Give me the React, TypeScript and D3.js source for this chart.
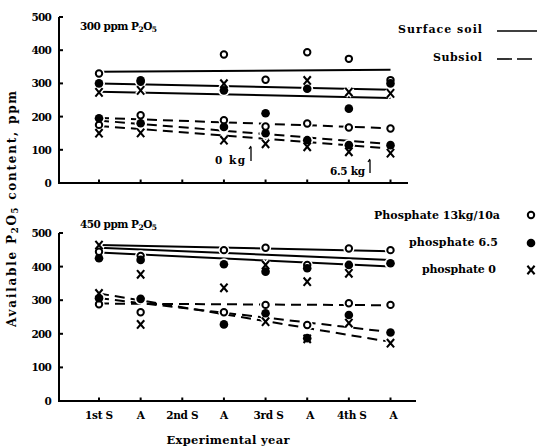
import React from "react";
import * as d3 from "d3";

// ---------- data ----------
const categories = ["1st S", "A", "2nd S", "A", "3rd S", "A", "4th S", "A"];
const yTicks = [0, 100, 200, 300, 400, 500];

// 300 ppm P2O5 panel – surface soil
const surf13_300 = [330, 305, null, 387, 311, 394, 374, 310];
const surf65_300 = [300, 309, null, 279, 210, 284, 224, 300];
const surf0_300 = [273, 279, null, 299, null, 309, 274, 270];
// 300 ppm P2O5 panel – subsoil
const sub13_300 = [175, 204, null, 189, 170, 179, 167, 164];
const sub65_300 = [195, 180, null, 169, 150, 129, 114, 114];
const sub0_300 = [150, 151, null, 129, 118, 109, 94, 90];
// fitted lines (value at 1st S, value at 4th A)
const fitSurf13_300 = [335, 341];
const fitSurf65_300 = [300, 281];
const fitSurf0_300 = [275, 256];
const fitSub13_300 = [196, 165];
const fitSub65_300 = [188, 117];
const fitSub0_300 = [172, 104];

// 450 ppm P2O5 panel – surface soil
const surf13_450 = [444, 432, null, 449, 456, 405, 454, 449];
const surf65_450 = [425, 420, null, 407, 385, 395, 405, 410];
const surf0_450 = [464, 377, null, 337, 405, 355, 380, null];
// 450 ppm P2O5 panel – subsoil
const sub13_450 = [288, 264, null, 264, 286, 226, 291, 286];
const sub65_450 = [306, 304, null, 228, 261, 187, 256, 204];
const sub0_450 = [320, 228, null, null, 236, 185, 232, 172];
const fitSurf13_450 = [464, 446];
const fitSurf65_450 = [456, 420];
const fitSurf0_450 = [442, 400];
const fitSub13_450 = [290, 285];
const fitSub65_450 = [306, 205];
const fitSub0_450 = [320, 176];

const legendLines = ["Surface soil", "Subsiol"];
const legendMarkers = ["Phosphate 13kg/10a", "phosphate 6.5", "phosphate 0"];

// ---------- drawing ----------
const FONT = "'DejaVu Serif', 'Liberation Serif', serif";
const x = d3.scaleLinear().domain([0, categories.length - 1]).range([99, 390.5]);

type Kind = "open" | "filled" | "cross";

function crossPath(cx: number, cy: number) {
  return `M${cx - 3.6},${cy - 4.2}L${cx + 3.6},${cy + 4.2}M${cx + 3.6},${cy - 4.2}L${cx - 3.6},${cy + 4.2}`;
}

function Halo({ kind, cx, cy }: { kind: Kind; cx: number; cy: number }) {
  if (kind === "cross")
    return <path d={crossPath(cx, cy)} stroke="#fff" strokeWidth={5} fill="none" />;
  return <circle cx={cx} cy={cy} r={kind === "open" ? 5.6 : 6} fill="#fff" />;
}

function Mark({ kind, cx, cy }: { kind: Kind; cx: number; cy: number }) {
  if (kind === "cross")
    return <path d={crossPath(cx, cy)} stroke="#000" strokeWidth={2.1} fill="none" />;
  if (kind === "open")
    return <circle cx={cx} cy={cy} r={3.2} fill="#fff" stroke="#000" strokeWidth={2} />;
  return <circle cx={cx} cy={cy} r={4.3} fill="#000" />;
}

function PanelTitle({ xPos, yPos, ppm }: { xPos: number; yPos: number; ppm: string }) {
  return (
    <text x={xPos} y={yPos} fontFamily={FONT} fontWeight="bold" fontSize={10.5} textLength={77} lengthAdjust="spacing">
      {ppm} ppm P
      <tspan fontSize={7.5} dy={2}>2</tspan>
      <tspan dy={-2}>O</tspan>
      <tspan fontSize={7.5} dy={2}>5</tspan>
    </text>
  );
}

interface PanelProps {
  y0: number;
  y500: number;
  axisEnd: number;
  series: { vals: (number | null)[]; kind: Kind }[];
  fits: { v: number[]; dashed: boolean }[];
  showXLabels: boolean;
}

function Panel({ y0, y500, axisEnd, series, fits, showXLabels }: PanelProps) {
  const y = d3.scaleLinear().domain([0, 500]).range([y0, y500]);
  const last = categories.length - 1;
  const pts: { kind: Kind; cx: number; cy: number }[] = [];
  series.forEach((s) =>
    s.vals.forEach((v, i) => {
      if (v !== null) pts.push({ kind: s.kind, cx: x(i), cy: y(v) });
    })
  );
  return (
    <g>
      {fits.map((f, i) => (
        <line
          key={"f" + i}
          x1={x(0)}
          x2={x(last)}
          y1={y(f.v[0])}
          y2={y(f.v[1])}
          stroke="#000"
          strokeWidth={2}
          strokeDasharray={f.dashed ? "10,6" : undefined}
        />
      ))}
      {pts.map((p, i) => (
        <Halo key={"h" + i} {...p} />
      ))}
      {pts.map((p, i) => (
        <Mark key={"m" + i} {...p} />
      ))}
      <line x1={59} x2={59} y1={y(500)} y2={y(0)} stroke="#000" strokeWidth={2} />
      <line x1={58} x2={axisEnd} y1={y(0)} y2={y(0)} stroke="#000" strokeWidth={2} />
      {yTicks.map((t) => (
        <g key={"yt" + t}>
          <line x1={59} x2={63} y1={y(t)} y2={y(t)} stroke="#000" strokeWidth={2} />
          <text
            x={51}
            y={y(t) + 4}
            textAnchor="end"
            fontFamily={FONT}
            fontWeight="bold"
            fontSize={10.5}
            letterSpacing={-0.8}
          >
            {t}
          </text>
        </g>
      ))}
      {categories.map((c, i) => (
        <g key={"xt" + i}>
          <line x1={x(i)} x2={x(i)} y1={y(0)} y2={y(0) - 3.5} stroke="#000" strokeWidth={2} />
          {showXLabels && (
            <text
              x={x(i) + (i > 3 ? 3 : 0)}
              y={y(0) + 18}
              textAnchor="middle"
              fontFamily={FONT}
              fontWeight="bold"
              fontSize={10.5}
              letterSpacing={-0.3}
            >
              {c}
            </text>
          )}
        </g>
      ))}
    </g>
  );
}

export default function App() {
  return (
    <svg width={542} height={448} style={{ position: "absolute", left: 0, top: 0, background: "#fff" }}>
      <rect width={542} height={448} fill="#fff" />
      <Panel
        y0={183}
        y500={17}
        axisEnd={408}
        showXLabels={false}
        series={[
          { vals: surf13_300, kind: "open" },
          { vals: surf65_300, kind: "filled" },
          { vals: surf0_300, kind: "cross" },
          { vals: sub13_300, kind: "open" },
          { vals: sub65_300, kind: "filled" },
          { vals: sub0_300, kind: "cross" },
        ]}
        fits={[
          { v: fitSurf13_300, dashed: false },
          { v: fitSurf65_300, dashed: false },
          { v: fitSurf0_300, dashed: false },
          { v: fitSub13_300, dashed: true },
          { v: fitSub65_300, dashed: true },
          { v: fitSub0_300, dashed: true },
        ]}
      />
      <Panel
        y0={401}
        y500={233}
        axisEnd={416}
        showXLabels={true}
        series={[
          { vals: surf13_450, kind: "open" },
          { vals: surf65_450, kind: "filled" },
          { vals: surf0_450, kind: "cross" },
          { vals: sub13_450, kind: "open" },
          { vals: sub65_450, kind: "filled" },
          { vals: sub0_450, kind: "cross" },
        ]}
        fits={[
          { v: fitSurf13_450, dashed: false },
          { v: fitSurf65_450, dashed: false },
          { v: fitSurf0_450, dashed: false },
          { v: fitSub13_450, dashed: true },
          { v: fitSub65_450, dashed: true },
          { v: fitSub0_450, dashed: true },
        ]}
      />
      <PanelTitle xPos={80} yPos={30} ppm="300" />
      <PanelTitle xPos={80} yPos={228} ppm="450" />

      {/* annotations */}
      <text x={215} y={164} fontFamily={FONT} fontWeight="bold" fontSize={10.5} textLength={30}>
        0 kg
      </text>
      <path d="M251,161V147M249,149L251,146" stroke="#000" strokeWidth={1.3} fill="none" />
      <text x={330} y={175} fontFamily={FONT} fontWeight="bold" fontSize={10.5} textLength={35}>
        6.5 kg
      </text>
      <path d="M370,173V160M368,162L370,159" stroke="#000" strokeWidth={1.3} fill="none" />

      {/* line legend */}
      <text x={398} y={33} fontFamily={FONT} fontWeight="bold" fontSize={11} textLength={84}>
        {legendLines[0]}
      </text>
      <line x1={497} x2={537} y1={31} y2={31} stroke="#000" strokeWidth={1.6} />
      <text x={433} y={61} fontFamily={FONT} fontWeight="bold" fontSize={11} textLength={49}>
        {legendLines[1]}
      </text>
      <line x1={497} x2={537} y1={59} y2={59} stroke="#000" strokeWidth={1.6} strokeDasharray="15,5" />

      {/* marker legend */}
      <text x={374} y={219} fontFamily={FONT} fontWeight="bold" fontSize={11} textLength={126}>
        {legendMarkers[0]}
      </text>
      <Mark kind="open" cx={531} cy={215} />
      <text x={409} y={246} fontFamily={FONT} fontWeight="bold" fontSize={11} textLength={89}>
        {legendMarkers[1]}
      </text>
      <Mark kind="filled" cx={531} cy={243} />
      <text x={422} y={273} fontFamily={FONT} fontWeight="bold" fontSize={11} textLength={74}>
        {legendMarkers[2]}
      </text>
      <Mark kind="cross" cx={531} cy={270} />

      {/* axis titles */}
      <text
        x={228}
        y={444}
        textAnchor="middle"
        fontFamily={FONT}
        fontWeight="bold"
        fontSize={11.5}
        textLength={123}
      >
        Experimental year
      </text>
      <text
        transform="translate(16,209) rotate(-90)"
        textAnchor="middle"
        fontFamily={FONT}
        fontWeight="bold"
        fontSize={12}
        textLength={236}
        lengthAdjust="spacing"
      >
        Available P<tspan fontSize={8.5} dy={2}>2</tspan>
        <tspan dy={-2}>O</tspan>
        <tspan fontSize={8.5} dy={2}>5</tspan>
        <tspan dy={-2}> content, ppm</tspan>
      </text>
    </svg>
  );
}
